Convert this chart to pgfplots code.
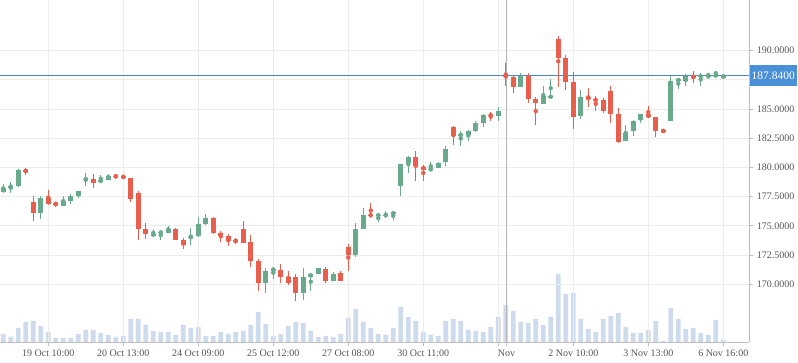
\documentclass[border=0pt]{standalone}
\usepackage{fontspec}
\setmainfont{Liberation Serif}
\usepackage{pgfplots}
\usepackage{pgfplotstable}
\pgfplotsset{compat=1.18}
\definecolor{cup}{RGB}{106,170,140}
\definecolor{cdn}{RGB}{233,95,78}
\definecolor{cvol}{RGB}{206,219,236}
\definecolor{cgrid}{RGB}{236,236,236}
\definecolor{caxis}{RGB}{190,190,190}
\definecolor{ccross}{RGB}{180,180,180}
\definecolor{cline}{RGB}{74,134,200}
\definecolor{cbox}{RGB}{74,144,217}
\definecolor{ctext}{RGB}{85,85,85}

\pgfplotstableread{
i o h l c u v
0 177.89 178.58 177.83 178.26 1 8.3
1 178.29 178.72 177.83 178.46 1 5.3
2 178.43 179.86 178.35 179.77 1 14.3
3 179.77 180.00 179.40 179.63 0 20.3
4 177.04 177.55 175.44 176.13 0 21.3
5 176.13 177.55 175.61 177.35 1 16.3
6 177.35 178.06 176.78 176.87 0 10.3
7 176.92 177.09 176.64 176.87 0 4.3
8 176.72 177.52 176.72 177.12 1 4.3
9 177.12 177.72 176.89 177.52 1 4.3
10 177.55 178.00 177.41 177.95 1 8.3
11 178.98 179.49 178.43 179.03 1 12.3
12 179.06 179.43 178.26 178.66 0 12.3
13 178.77 179.37 178.72 178.92 1 9.3
14 178.92 179.43 178.92 179.26 1 7.3
15 179.29 179.46 179.03 179.23 0 5.3
16 179.23 179.35 179.03 179.17 0 6.3
17 179.09 179.09 177.07 177.29 0 23.3
18 177.81 177.98 173.79 174.73 0 23.3
19 174.73 175.24 173.87 174.33 0 17.7
20 174.22 174.73 174.07 174.30 1 11.3
21 174.42 174.64 173.79 174.47 1 10.3
22 174.42 174.99 174.42 174.73 1 10.3
23 174.73 174.81 173.79 173.82 0 7.3
24 173.79 173.96 173.02 173.36 0 17.3
25 173.99 174.79 173.39 174.07 1 14.3
26 174.10 175.73 174.02 175.16 1 15.3
27 175.16 176.01 175.04 175.67 1 6.3
28 175.67 175.73 174.30 174.42 0 6.3
29 174.39 174.59 173.65 174.13 0 10.3
30 174.13 174.27 173.28 173.73 0 8.3
31 173.73 174.00 173.45 173.68 0 10.3
32 174.73 175.41 173.56 173.56 0 11.3
33 173.62 174.22 171.51 172.02 0 17.3
34 171.99 172.16 169.46 170.14 0 30.3
35 170.14 171.37 169.29 171.14 1 18.3
36 171.23 171.51 170.48 171.31 1 6.3
37 171.23 171.71 170.09 170.66 0 8.3
38 170.63 171.14 169.94 170.14 0 16.3
39 170.63 170.85 168.60 169.29 0 20.3
40 169.29 171.42 168.66 170.63 1 19.3
41 170.66 171.00 169.46 170.88 1 11.3
42 170.88 171.40 170.88 171.40 1 5.3
43 171.31 171.51 170.09 170.31 0 6.3
44 170.31 171.08 170.31 170.88 1 5.3
45 170.94 171.14 170.25 170.31 0 8.3
46 173.16 173.42 171.17 172.54 0 24.3
47 172.51 175.24 172.36 174.73 1 33.3
48 174.73 176.50 174.73 175.90 1 20.3
49 175.95 177.00 175.64 175.90 0 14.3
50 175.90 175.98 175.36 175.95 1 8.3
51 175.90 176.27 175.64 175.95 1 7.3
52 175.98 176.27 175.47 176.18 1 14.3
53 178.43 180.34 177.58 180.28 1 35.3
54 180.40 181.00 179.57 180.91 1 25.3
55 180.91 181.45 178.86 180.14 0 21.3
56 180.06 180.20 178.86 179.83 0 10.3
57 179.77 180.43 179.77 179.91 1 7.3
58 179.97 180.48 179.97 180.43 1 6.3
59 180.48 181.88 180.14 181.60 1 21.3
60 183.50 183.59 181.97 182.68 0 23.3
61 182.68 183.16 181.82 182.91 1 21.3
62 182.82 183.25 182.25 183.11 1 12.3
63 183.11 184.02 183.02 183.85 1 11.3
64 183.85 184.59 183.45 184.53 1 10.3
65 184.53 184.79 183.96 184.44 0 15.3
66 184.44 185.16 184.02 184.87 1 25.3
67 187.87 188.97 186.95 187.73 0 37.3
68 187.73 187.87 186.38 186.90 0 31.3
69 186.90 188.10 186.90 187.87 1 20.3
70 187.87 188.10 185.52 185.86 0 19.3
71 185.83 186.03 183.62 185.52 0 23.3
72 185.43 186.95 185.43 186.09 1 17.3
73 186.03 187.56 186.03 186.09 1 25.3
74 191.00 191.29 186.90 189.40 0 68.3
75 189.40 189.63 186.61 187.33 0 48.3
76 187.33 188.19 183.28 184.31 0 49.3
77 184.37 186.61 184.14 186.01 1 23.3
78 186.00 186.84 185.17 185.86 0 13.3
79 185.83 186.09 184.83 185.75 0 10.3
80 185.75 185.98 184.68 184.80 0 23.3
81 186.52 186.95 183.85 184.57 0 26.3
82 184.54 185.06 182.07 182.18 0 29.3
83 182.24 183.68 182.24 182.96 1 15.3
84 183.10 184.11 182.73 184.02 1 9.3
85 184.08 184.60 183.79 184.54 1 9.3
86 184.54 185.23 184.25 184.31 0 12.3
87 184.31 184.31 182.59 183.10 0 21.3
88 183.16 183.16 183.10 183.10 0 1.3
89 184.02 187.82 183.97 187.39 1 34.3
90 187.44 187.67 186.70 187.53 1 23.3
91 187.39 188.02 186.98 187.87 1 13.3
92 187.82 188.28 187.24 187.73 0 14.3
93 187.76 188.10 186.98 187.87 1 9.3
94 187.76 188.10 187.73 187.84 1 7.3
95 187.84 188.30 187.84 187.90 1 22.3
96 187.73 187.87 187.73 187.84 1 2.3
}\candles

\begin{document}
\begin{tikzpicture}
% volume axis (background)
\begin{axis}[at={(0,0)}, anchor=south west, scale only axis,
  width=749.3pt, height=342.3pt,
  xmin=-0.44, xmax=99.47, ymin=0, ymax=342.3,
  hide axis, ybar, bar width=0.64]
\addplot[fill=cvol, draw=none] table[x=i, y=v] \candles;
\end{axis}
% price axis
\begin{axis}[at={(0,0)}, anchor=south west, scale only axis,
  width=749.3pt, height=342.3pt,
  xmin=-0.44, xmax=99.47, ymin=165.04, ymax=194.34,
  axis x line*=bottom, axis y line*=right,
  axis line style={draw=caxis, line width=0.9pt},
  tick style={draw=caxis, line width=0.9pt},
  tick align=outside, major tick length=4pt,
  xtick={6,16,26,36,46,56,66,76,86,96},
  xticklabels={19 Oct 10:00, 20 Oct 13:00, 24 Oct 09:00, 25 Oct 12:00, 27 Oct 08:00, 30 Oct 11:00, {}, 2 Nov 10:00, 3 Nov 13:00, 6 Nov 16:00},
  extra x ticks={67.1}, extra x tick labels={Nov},
  extra x tick style={grid=none},
  ytick={170,172.5,175,177.5,180,182.5,185,187.5,190},
  yticklabels={170.0000,172.5000,175.0000,177.5000,180.0000,182.5000,185.0000,{},190.0000},
  grid=major, grid style={draw=cgrid, line width=0.9pt},
  ticklabel style={font=\fontsize{10}{12}\selectfont, text=ctext},
  clip=false]
\addplot[ccross, line width=0.9pt] coordinates {(67.1,165.04) (67.1,194.34)};
\addplot[cline, line width=1pt] coordinates {(-0.44,187.84) (99.47,187.84)};
% wicks
\addplot[only marks, mark=none, color=cup,
  restrict expr to domain={\thisrow{u}}{0.5:1.5},
  error bars/.cd, y dir=both, y explicit, error mark=none,
  error bar style={line width=0.9pt, solid, color=cup}]
  table[x=i, y expr={(\thisrow{h}+\thisrow{l})/2}, y error expr={(\thisrow{h}-\thisrow{l})/2}] \candles;
\addplot[only marks, mark=none, color=cdn,
  restrict expr to domain={\thisrow{u}}{-0.5:0.5},
  error bars/.cd, y dir=both, y explicit, error mark=none,
  error bar style={line width=0.9pt, solid, color=cdn}]
  table[x=i, y expr={(\thisrow{h}+\thisrow{l})/2}, y error expr={(\thisrow{h}-\thisrow{l})/2}] \candles;
% bodies
\addplot[only marks, mark=none, color=cup,
  restrict expr to domain={\thisrow{u}}{0.5:1.5},
  error bars/.cd, y dir=both, y explicit, error mark=none,
  error bar style={line width=4.8pt, solid, color=cup}]
  table[x=i, y expr={(\thisrow{o}+\thisrow{c})/2}, y error expr={max(abs(\thisrow{c}-\thisrow{o})/2,0.05)}] \candles;
\addplot[only marks, mark=none, color=cdn,
  restrict expr to domain={\thisrow{u}}{-0.5:0.5},
  error bars/.cd, y dir=both, y explicit, error mark=none,
  error bar style={line width=4.8pt, solid, color=cdn}]
  table[x=i, y expr={(\thisrow{o}+\thisrow{c})/2}, y error expr={max(abs(\thisrow{c}-\thisrow{o})/2,0.05)}] \candles;
\node[fill=cbox, text=white, anchor=west, minimum width=47.4pt, minimum height=21pt, inner sep=0pt,
  font=\fontsize{11.5}{13}\selectfont] at (axis cs:99.47,187.84) {187.8400};
\end{axis}
\pgfresetboundingbox
\path[use as bounding box] (0pt,-20.7pt) rectangle (798pt,342.3pt);
\end{tikzpicture}
\end{document}
